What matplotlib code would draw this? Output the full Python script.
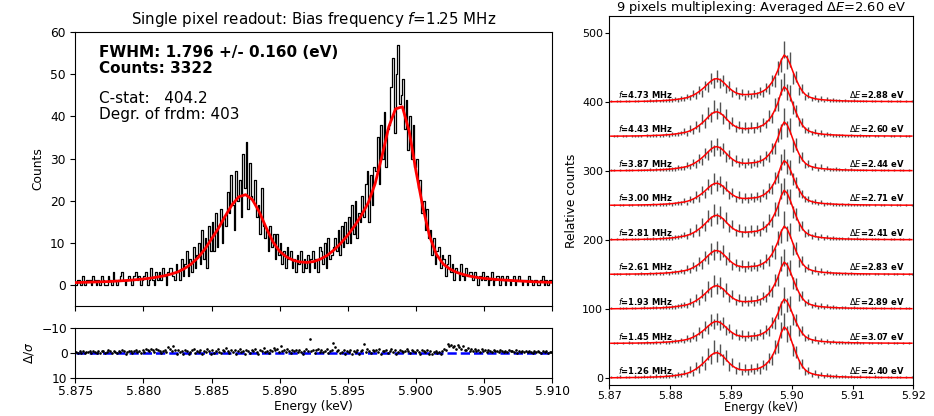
import numpy as np
import matplotlib
matplotlib.use("Agg")
import matplotlib.pyplot as plt

plt.rcParams['font.family'] = ['DejaVu Sans']

# ---------------- Left panel: single pixel ----------------
left_e_start = 5.875          # keV, first bin edge
left_bin = 0.000125           # keV bin width
left_counts = [
    0,1,1,0,2,0,1,1,  1,0,2,1,0,1,0,2,  1,0,0,2,1,0,3,1,  0,1,2,3,1,0,1,2,
    1,0,2,3,1,2,0,1,  2,3,0,1,4,1,0,3,  1,3,1,4,2,0,3,4,  4,2,1,5,3,1,6,2,
    5,8,2,6,3,9,4,7,  10,5,13,6,11,4,14,8,  15,8,17,9,14,18,10,16,
    14,22,17,26,19,13,27,20,  25,16,31,23,34,18,29,21,  20,25,16,19,12,23,14,11,
    13,8,14,9,12,6,12,7,  10,5,8,4,9,6,8,4,  6,3,7,5,8,3,6,4,  7,3,6,8,4,6,3,9,
    8,5,10,4,11,6,7,9,  11,8,13,7,14,9,15,10,  16,10,19,12,20,11,17,15,
    21,16,24,27,15,26,19,28,  27,35,24,38,30,41,28,37,  38,47,54,36,50,57,43,45,
    49,37,44,32,40,30,38,28,  30,23,25,17,20,13,18,11,  13,7,11,5,8,9,4,7,
    6,2,5,7,3,5,1,4,  3,1,5,2,1,4,2,3,  3,1,3,2,0,2,1,3,  1,2,0,1,3,0,1,2,
    2,0,2,1,0,2,1,0,  1,2,0,1,2,1,0,1,  1,0,2,1,0,1,1,0,  0,1,2,0,1,0,1,1,
]
left_fit_step = 0.0005        # keV spacing of fit samples
left_fit = [
    0.5,0.55,0.6,0.65,0.7,0.75,0.85,0.95,1.05,1.2,1.35,1.55,1.8,2.1,2.5,3.0,
    3.8,4.9,6.4,8.4,10.9,13.4,16.3,19.0,20.9,21.4,20.2,17.3,13.6,10.2,7.9,6.6,
    5.8,5.4,5.3,5.5,6.1,7.0,8.3,9.9,11.8,14.0,16.5,19.5,24.0,30.5,37.5,41.8,
    42.3,36.5,27.0,18.5,11.5,7.2,4.9,3.7,2.9,2.4,2.0,1.7,1.5,1.35,1.2,1.1,
    1.0,0.9,0.8,0.72,0.65,0.6,0.55,
]
left_resid = [
    -0.3,0.1,-0.5,0.2,-0.6,0.0,-0.4,-0.2,  -0.5,0.3,-0.7,-0.4,0.2,-0.6,0.1,-0.8,
    -0.6,0.2,-0.3,-0.9,-0.5,0.1,-0.7,-0.2,  0.3,-0.6,-0.4,-1.0,-0.5,0.4,-0.3,-0.6,
    -0.8,0.2,-0.5,-1.2,-0.3,-0.6,0.3,-0.9,  -0.4,-1.4,-1.2,-0.6,-1.5,-0.9,-0.3,-1.6,
    -1.0,-0.5,0.2,-0.7,-1.1,-0.4,-2.2,-1.3,  -0.6,-2.8,-0.9,0.5,-1.0,-0.3,-0.8,0.4,
    -1.1,-0.5,0.6,-0.2,-0.9,-1.3,0.3,-0.7,  -0.4,-1.2,0.4,-0.8,-0.3,-1.5,-0.6,0.5,
    -0.9,0.2,-0.7,-1.3,-0.4,0.3,-1.0,-0.5,  -1.8,-0.6,0.1,-1.1,-0.3,-0.9,0.6,-0.5,
    -1.4,-0.2,-0.8,0.4,-1.2,-0.6,0.2,-0.9,  -0.5,-1.5,-0.3,0.5,-1.0,-0.7,-1.9,-0.4,
    -0.8,0.3,-1.2,-0.5,-2.0,-0.9,-1.3,-0.2,  -2.5,-0.7,-1.1,-0.3,-1.6,-0.8,0.2,-1.0,
    -0.6,-1.2,-0.4,-1.0,-0.3,0.4,-0.8,-1.4,  -0.7,-5.5,-0.5,-1.1,0.3,-0.9,-1.3,-0.4,
    -1.0,-0.3,-0.8,-1.5,0.2,-0.6,-1.2,-4.0,  -2.2,-0.5,-0.9,0.3,-0.4,-1.1,0.5,-0.7,
    -0.3,-1.0,0.4,-0.6,-0.2,-0.9,0.6,-0.5,  -1.2,-3.3,-0.4,-1.6,-0.7,0.3,-1.1,-0.5,
    -0.9,-0.2,-1.4,0.4,-0.8,-0.5,-1.0,0.2,  -0.6,-1.3,-0.3,-0.9,0.5,-0.4,-1.1,-0.7,
    -0.2,-0.8,-1.5,-0.5,0.3,-1.0,-0.6,-0.3,  -0.9,-0.4,0.6,-1.2,-0.7,-0.2,-1.0,0.4,
    -0.5,0.7,-0.3,-0.6,0.2,-0.4,0.5,-0.8,  -1.4,-0.9,-3.6,-2.6,-3.0,-2.2,-2.8,-1.6,
    -3.0,-2.1,-1.5,-2.5,-1.2,-0.9,-1.8,-0.6,  -1.3,-0.5,-1.6,-0.8,-1.1,-0.3,-1.4,-0.7,
    -0.9,-0.4,-1.2,-0.6,-0.2,-1.0,-0.5,-0.8,  -0.3,-0.9,-0.6,-0.2,-0.8,-0.4,-1.0,-0.5,
    -0.7,-0.3,-0.9,0.1,-0.6,-0.4,-0.8,-0.2,  -0.5,-0.1,-0.7,-0.4,0.2,-0.6,-0.3,-0.8,
    -0.4,0.1,-0.5,-0.2,-0.7,0.2,-0.3,-0.1,
]
left_xticks = [5.875, 5.880, 5.885, 5.890, 5.895, 5.900, 5.905, 5.910]
left_yticks = [0, 10, 20, 30, 40, 50, 60]
resid_yticks = [-10, 0, 10]

# ---------------- Right panel: 9 pixels ----------------
right_e_start = 5.870
right_bin = 0.0005
right_offset_step = 50
rel_scale = 2.0               # relative counts per detected count
freqs = ["1.26", "1.45", "1.93", "2.61", "2.81", "3.00", "3.87", "4.43", "4.73"]
dE = ["2.40", "3.07", "2.89", "2.83", "2.41", "2.71", "2.44", "2.60", "2.88"]
peak_heights = [74, 64.5, 68, 70, 72, 65, 71, 72, 68]
fit_shape = [
    0.5,0.5,0.6,0.6,0.6,0.7,0.7,0.8,0.8,0.9,1.0,1.1,
    1.2,1.3,1.5,1.6,1.8,2.0,2.3,2.6,3.0,3.5,4.1,4.8,
    5.5,6.5,8,10,12.5,15.5,19,23,27.5,31.5,34.3,34.8,
    33,29.5,25,20.5,16.8,14,12.3,11.4,11.1,11.2,11.6,12,
    12.5,14,16,19,23.5,29.5,38,48,62,70,66,56,
    44,33,23.5,16,11,8,6.3,5.1,4.3,3.7,3.2,2.9,
    2.5,2.3,2.1,1.9,1.8,1.6,1.5,1.4,1.3,1.2,1.1,1.1,
    1.0,1.0,0.9,0.9,0.9,0.8,0.8,0.8,0.7,0.7,0.7,0.7,0.6,0.6,0.6,0.6,
]
data_f126 = [1,0,1,2,0,1,1,0,2,1,1,2, 1,2,1,3,2,1,3,2,4,3,5,4,
             8,4,12,7,17,12,25,18,35,28,45,32, 41,27,33,16,22,11,17,8,15,9,15,10,
             16,11,20,17,29,27,45,46,70,82,64,66, 41,38,20,21,9,11,4,8,3,6,2,4,
             3,2,3,1,2,2,1,2,1,1,2,0, 1,1,0,2,1,1,0,1,1,0,1,1,0,1,0,1]
data_f145 = [0,1,1,0,1,0,2,1,0,1,1,1, 2,1,1,2,1,3,2,2,3,4,3,5,
             3,8,5,12,8,18,13,25,21,34,28,36, 27,31,19,22,12,16,9,14,7,13,8,12,
             9,16,12,21,17,31,28,45,52,70,56,58, 35,34,17,19,7,10,4,7,2,5,1,4,
             2,3,1,2,2,1,2,1,1,2,1,1, 0,1,1,0,1,1,0,1,0,1,1,0,1,0,1,0]
data_f193 = [1,0,0,1,1,1,0,1,1,0,1,2, 1,1,2,2,1,2,3,2,3,3,4,5,
             7,4,11,7,16,10,23,17,32,25,41,30, 38,24,30,16,21,10,16,8,14,9,14,9,
             15,10,19,16,27,25,42,42,66,75,58,60, 38,36,18,20,8,10,4,7,2,5,2,4,
             2,3,2,1,2,2,1,1,2,1,1,1, 1,0,1,1,0,1,1,0,1,1,0,1,0,1,1,0]
data_f261 = [0,1,1,1,0,1,1,0,1,1,2,1, 1,2,1,2,2,1,3,2,3,4,3,5,
             4,9,6,13,9,19,14,27,22,37,29,40, 28,34,20,25,12,17,9,15,8,14,9,13,
             10,17,13,23,18,34,31,53,56,80,60,64, 37,38,17,21,7,11,4,8,2,6,1,4,
             3,2,2,2,1,2,1,2,1,1,1,1, 1,1,0,1,1,0,1,1,0,1,1,0,1,0,1,1]
data_f281 = [1,0,1,0,1,1,0,1,1,1,0,1, 2,1,2,1,2,3,2,3,3,4,4,6,
             8,5,12,8,17,11,25,19,35,27,43,31, 40,25,32,17,22,11,17,9,15,9,16,10,
             16,11,21,17,30,26,45,45,71,78,63,63, 41,38,20,21,9,11,5,8,3,6,2,4,
             2,3,2,2,2,1,2,1,1,2,1,1, 1,0,1,1,1,0,1,0,1,1,0,1,1,0,1,0]
data_f300 = [0,1,0,1,1,0,1,1,0,1,1,1, 1,1,2,1,2,2,2,3,2,3,4,4,
             7,3,10,7,15,10,22,16,31,24,38,29, 35,23,28,15,19,10,15,7,13,8,13,9,
             14,10,18,15,26,24,40,41,63,70,57,55, 38,33,19,17,9,9,5,6,3,5,2,3,
             3,2,2,1,2,1,2,1,1,1,1,1, 1,1,0,1,0,1,1,0,1,0,1,1,0,1,0,1]
data_f387 = [1,1,0,1,0,1,1,1,0,1,1,1, 1,2,1,2,2,2,2,3,3,3,5,4,
             4,9,6,13,9,18,14,26,22,36,30,39, 29,33,20,24,13,17,10,14,8,14,9,13,
             11,17,13,22,19,33,32,52,57,79,61,65, 36,39,17,21,8,11,4,8,2,6,1,4,
             2,2,3,2,1,2,1,2,1,1,1,1, 1,0,1,1,0,1,1,1,0,1,0,1,1,0,1,0]
data_f443 = [0,1,1,0,1,1,0,1,1,1,1,0, 2,1,2,2,1,2,3,2,4,3,4,5,
             8,4,12,8,17,12,25,19,34,28,44,33, 41,26,32,17,22,12,17,9,15,10,16,10,
             16,12,21,18,30,27,46,47,72,79,65,63, 42,37,21,20,10,10,5,7,3,6,2,4,
             3,2,2,2,2,1,1,2,1,1,2,1, 1,1,0,1,1,0,1,0,1,1,0,1,0,1,1,0]
data_f473 = [1,0,1,1,0,1,1,0,1,1,0,1, 1,2,1,2,1,2,2,3,3,4,3,5,
             4,8,6,12,9,17,13,24,21,34,28,38, 27,31,19,23,12,16,9,14,7,13,8,12,
             10,16,13,21,18,31,30,49,54,76,58,62, 34,37,16,20,7,10,4,7,2,5,1,4,
             2,3,2,2,1,2,1,1,2,1,1,1, 1,0,1,1,0,1,0,1,1,0,1,1,0,1,0,1]
right_spectra = [data_f126, data_f145, data_f193, data_f261, data_f281,
                 data_f300, data_f387, data_f443, data_f473]
right_xticks = [5.87, 5.88, 5.89, 5.90, 5.91, 5.92]
right_yticks = [0, 100, 200, 300, 400, 500]

# ---------------- Figure ----------------
fig = plt.figure(figsize=(9.34, 4.16), dpi=100)
ax = fig.add_axes([0.0806, 0.2651, 0.5107, 0.6572])
axr = fig.add_axes([0.0806, 0.0921, 0.5107, 0.1202], sharex=ax)
ax2 = fig.add_axes([0.6524, 0.0745, 0.3255, 0.8877])

lc = np.array(left_counts, dtype=float)
lx = left_e_start + (np.arange(len(lc)) + 0.5) * left_bin
lf = np.array(left_fit)
lfx = left_e_start + np.arange(len(lf)) * left_fit_step

ax.step(lx, lc, where='mid', color='k', lw=0.9)
ax.plot(lfx, lf, color='red', lw=2.0, zorder=5)
ax.set_xlim(5.875, 5.910)
ax.set_ylim(-5, 60)
ax.set_yticks(left_yticks)
ax.tick_params(labelbottom=False, labelsize=8.8)
ax.set_ylabel('Counts', fontsize=8.8, labelpad=4)
ax.set_title(r'Single pixel readout: Bias frequency $f$=1.25 MHz', fontsize=10.8, pad=6)
ax.text(0.05, 0.955, 'FWHM: 1.796 +/- 0.160 (eV)\nCounts: 3322', transform=ax.transAxes,
        fontsize=11, fontweight='bold', va='top', ha='left', linespacing=1.1)
ax.text(0.05, 0.785, 'C-stat:   404.2\nDegr. of frdm: 403', transform=ax.transAxes,
        fontsize=11, va='top', ha='left', linespacing=1.1)

rx = left_e_start + (np.arange(len(left_resid)) + 0.5) * left_bin
axr.plot(rx, np.zeros_like(rx), color='blue', ls='--', lw=1.8)
axr.plot(rx, left_resid, 'k.', ms=1.8)
axr.set_ylim(10, -10)
axr.set_yticks(resid_yticks)
axr.set_ylabel(r'$\Delta/\sigma$', fontsize=8.8)
axr.set_xticks(left_xticks)
axr.set_xticklabels(['%.3f' % t for t in left_xticks])
axr.tick_params(labelsize=8.8, pad=2)
axr.set_xlabel('Energy (keV)', fontsize=8.8, labelpad=1)

rxs = right_e_start + (np.arange(len(fit_shape)) + 0.5) * right_bin
shape = np.array(fit_shape) / max(fit_shape)
for i, spec in enumerate(right_spectra):
    off = i * right_offset_step
    d = np.array(spec, dtype=float)
    ax2.errorbar(rxs, d + off, yerr=np.sqrt(rel_scale * d), fmt='none', ecolor='0.2',
                 elinewidth=1.0, alpha=0.85)
    ax2.plot(rxs, shape * peak_heights[i] + off, color='red', lw=1.1, zorder=5)
    ax2.text(5.8715, off + 3, r'$f$=%s MHz' % freqs[i], fontsize=6,
             fontweight='bold', ha='left', va='bottom', zorder=6)
    ax2.text(5.9185, off + 3, r'$\Delta E$=%s eV' % dE[i], fontsize=6,
             fontweight='bold', ha='right', va='bottom', zorder=6)
ax2.set_xlim(5.87, 5.92)
ax2.set_ylim(-10, 525)
ax2.set_xticks(right_xticks)
ax2.set_xticklabels(['%.2f' % t for t in right_xticks])
ax2.set_yticks(right_yticks)
ax2.tick_params(labelsize=8.0, pad=1.5, length=3)
ax2.set_xlabel('Energy (keV)', fontsize=8.3, labelpad=0)
ax2.set_ylabel('Relative counts', fontsize=8.8, labelpad=3)
ax2.set_title(r'9 pixels multiplexing: Averaged $\Delta E$=2.60 eV', fontsize=9.4, pad=2)

fig.savefig('out.png', dpi=100)
